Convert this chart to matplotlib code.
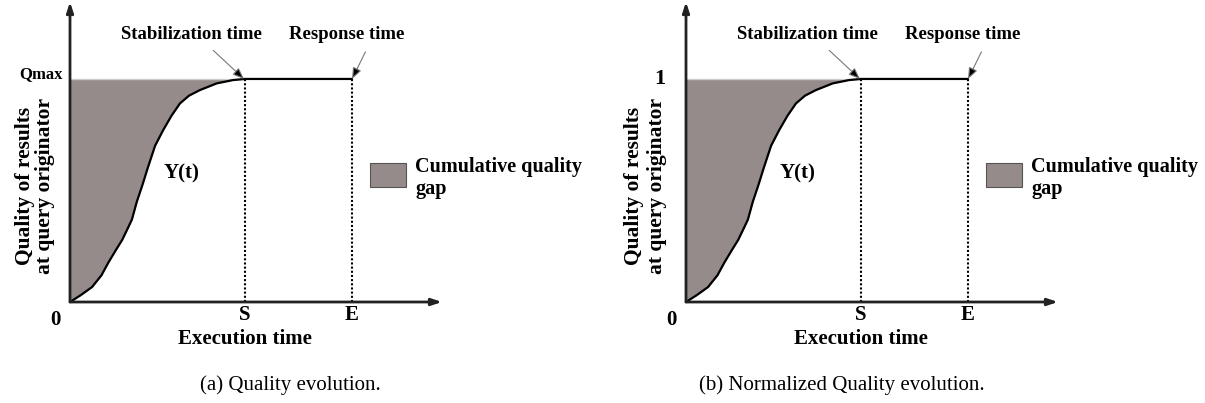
import matplotlib.pyplot as plt
from matplotlib.patches import Rectangle

# curve Y(t) (time in units where S = 5)
t_vals = [0, 0.3, 0.63, 0.9, 1.09, 1.3, 1.49, 1.65, 1.77, 1.91, 2.06, 2.23, 2.43, 2.66, 2.9, 3.14, 3.4, 3.71, 4.19, 4.66, 5.0]
y_vals = [0, 0.03, 0.067, 0.12, 0.175, 0.23, 0.278, 0.33, 0.37, 0.45, 0.52, 0.605, 0.70, 0.77, 0.835, 0.89, 0.925, 0.95, 0.98, 0.995, 1.0]
S = 5.0
E = 8.05
top_labels = ['Qmax', '1']
captions = ['(a) Quality evolution.', '(b) Normalized Quality evolution.']
ylab_x = [(-1.28, -0.71), (-1.5, -0.82)]

plt.rcParams['font.family'] = 'Liberation Serif'
fig = plt.figure(figsize=(12.05, 4.03), dpi=100)

XMAX, YMAX = 10.63, 1.345
lefts = [70 / 1205, 686 / 1205]
fill_c = '#968b8b'

for i, left in enumerate(lefts):
    ax = fig.add_axes([left, 101 / 403, 372 / 1205, 300 / 403])
    ax.set_xlim(0, XMAX)
    ax.set_ylim(0, YMAX)
    ax.axis('off')

    # axes with arrows
    ax.annotate('', xy=(0, YMAX), xytext=(0, 0), annotation_clip=False,
                arrowprops=dict(arrowstyle='-|>,head_length=0.6,head_width=0.2', color='#222222', lw=2, shrinkA=0, shrinkB=0))
    ax.annotate('', xy=(XMAX, 0), xytext=(0, 0), annotation_clip=False,
                arrowprops=dict(arrowstyle='-|>,head_length=0.6,head_width=0.2', color='#222222', lw=2, shrinkA=0, shrinkB=0))

    ax.fill_between(t_vals, y_vals, 1, color=fill_c, lw=0)
    ax.plot([0, S], [1, 1], color='#cccccc', lw=1)
    ax.plot(t_vals + [E], y_vals + [1], color='black', lw=1.6)
    ax.plot([S, S], [0, 1], color='black', lw=1.5, ls=(0, (1, 1)))
    ax.plot([E, E], [0, 1], color='black', lw=1.5, ls=(0, (1, 1)))

    ax.text(3.2, 0.575, 'Y(t)', fontsize=15, fontweight='bold', ha='center', va='center')

    ax.annotate('Stabilization time', xy=(4.97, 1.0), xytext=(3.46, 1.2), fontsize=13.5, fontweight='bold',
                ha='center', va='center',
                arrowprops=dict(arrowstyle='-|>,head_length=0.5,head_width=0.2', fc='black', ec='#777777', lw=0.8,
                                shrinkA=5, shrinkB=0, relpos=(0.6, 0)))
    ax.annotate('Response time', xy=(8.06, 1.0), xytext=(7.91, 1.2), fontsize=13.5, fontweight='bold',
                ha='center', va='center',
                arrowprops=dict(arrowstyle='-|>,head_length=0.5,head_width=0.2', fc='black', ec='#777777', lw=0.8,
                                shrinkA=5, shrinkB=0, relpos=(0.7, 0)))

    if i == 0:
        ax.text(-0.2, 1.02, top_labels[i], fontsize=12, fontweight='bold', ha='right', va='center')
    else:
        ax.text(-0.75, 1.0, top_labels[i], fontsize=16, fontweight='bold', ha='center', va='center')
    ax.text(-0.43, -0.08, '0', fontsize=15, fontweight='bold', ha='center', va='center', clip_on=False)
    ax.text(S, -0.06, 'S', fontsize=15, fontweight='bold', ha='center', va='center', clip_on=False)
    ax.text(E, -0.06, 'E', fontsize=15, fontweight='bold', ha='center', va='center', clip_on=False)
    ax.text(S, -0.165, 'Execution time', fontsize=15, fontweight='bold', ha='center', va='center', clip_on=False)

    ax.text(ylab_x[i][0], 0.52, 'Quality of results', fontsize=15.5, fontweight='bold', rotation=90,
            ha='center', va='center', clip_on=False)
    ax.text(ylab_x[i][1], 0.52, 'at query originator', fontsize=15.5, fontweight='bold', rotation=90,
            ha='center', va='center', clip_on=False)

    ax.add_patch(Rectangle((8.56, 0.516), 1.05, 0.107, fc=fill_c, ec='#555555', lw=0.8, clip_on=False))
    ax.text(9.86, 0.65, 'Cumulative quality\ngap', fontsize=14.5, fontweight='bold', ha='left', va='top',
            linespacing=1.1, clip_on=False)

fig.text(290 / 1205, 1 - 385 / 403, captions[0], fontsize=15, ha='center', va='center')
fig.text(842 / 1205, 1 - 385 / 403, captions[1], fontsize=15, ha='center', va='center')

fig.savefig('out.png', dpi=100)
